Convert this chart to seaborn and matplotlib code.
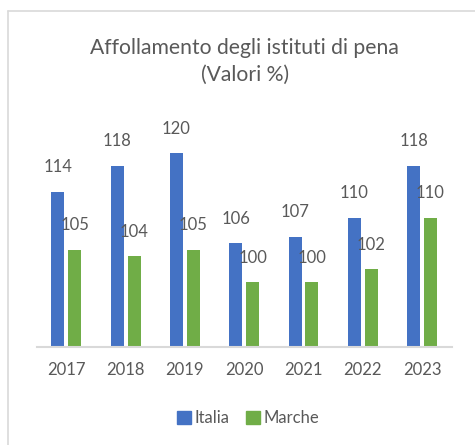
import numpy as np
import pandas as pd
import matplotlib
matplotlib.use('Agg')
import matplotlib.pyplot as plt
import seaborn as sns
from matplotlib.lines import Line2D

sns.set_style('white')
plt.rcParams['font.family'] = ['Lato', 'DejaVu Sans']

TEXT = '#595959'
GRID = '#D9D9D9'

# data
years = ['2017', '2018', '2019', '2020', '2021', '2022', '2023']
italia = [114, 118, 120, 106, 107, 110, 118]
marche = [105, 104, 105, 100, 100, 102, 110]
series = ['Italia', 'Marche']
colors = ['#4472C4', '#70AD47']

df = pd.DataFrame({
    'Anno': years * 2,
    'Valore': italia + marche,
    'Area': ['Italia'] * len(years) + ['Marche'] * len(years),
})

W, H = 475, 445
fig = plt.figure(figsize=(W / 100, H / 100), dpi=100)

# plot area in pixels
x0, x1 = 36.7, 451.7
y_base = 346.7
ymin, ymax = 90, 127
px_per_unit = 6.45
y_top = y_base - (ymax - ymin) * px_per_unit
ax = fig.add_axes([x0 / W, 1 - y_base / H, (x1 - x0) / W, (y_base - y_top) / H])

sns.barplot(data=df, x='Anno', y='Valore', hue='Area', hue_order=series,
            palette=colors, width=0.568, gap=0.225, linewidth=0,
            saturation=1, ax=ax, legend=False)

ax.set_ylim(ymin, ymax)
ax.set_xlim(-0.5, len(years) - 0.5)
ax.set_xlabel('')
ax.set_ylabel('')
ax.set_yticks([])
for s in ['top', 'right', 'left']:
    ax.spines[s].set_visible(False)
ax.spines['bottom'].set_color(GRID)
ax.spines['bottom'].set_linewidth(1.5)
ax.tick_params(axis='x', length=0, pad=11, labelsize=12, labelcolor=TEXT)
ax.patch.set_alpha(0)

for c in ax.containers:
    ax.bar_label(c, padding=12, fontsize=12, color=TEXT)

# title
fig.text(244.7 / W, 1 - 48 / H, 'Affollamento degli istituti di pena',
         ha='center', va='center', fontsize=15.2, color=TEXT)
fig.text(244.7 / W, 1 - 75 / H, '(Valori %)',
         ha='center', va='center', fontsize=15.2, color=TEXT)

# legend
handles = [plt.Rectangle((0, 0), 1, 1, color=c) for c in colors]
ax.legend(handles, series, loc='center', bbox_to_anchor=(248.5 / W, 1 - 418 / H),
          bbox_transform=fig.transFigure, ncol=2, frameon=False,
          handlelength=0.8, handleheight=0.8, handletextpad=0.25,
          columnspacing=1.0, fontsize=12, labelcolor=TEXT)

# chart border (only left and top visible in the crop)
bx, by = 7.5 / W, 1 - 11 / H
fig.add_artist(Line2D([bx, bx], [0, by], transform=fig.transFigure, color=GRID, lw=1.2))
fig.add_artist(Line2D([bx, 1], [by, by], transform=fig.transFigure, color=GRID, lw=1.2))

fig.savefig('out.png', dpi=100)
